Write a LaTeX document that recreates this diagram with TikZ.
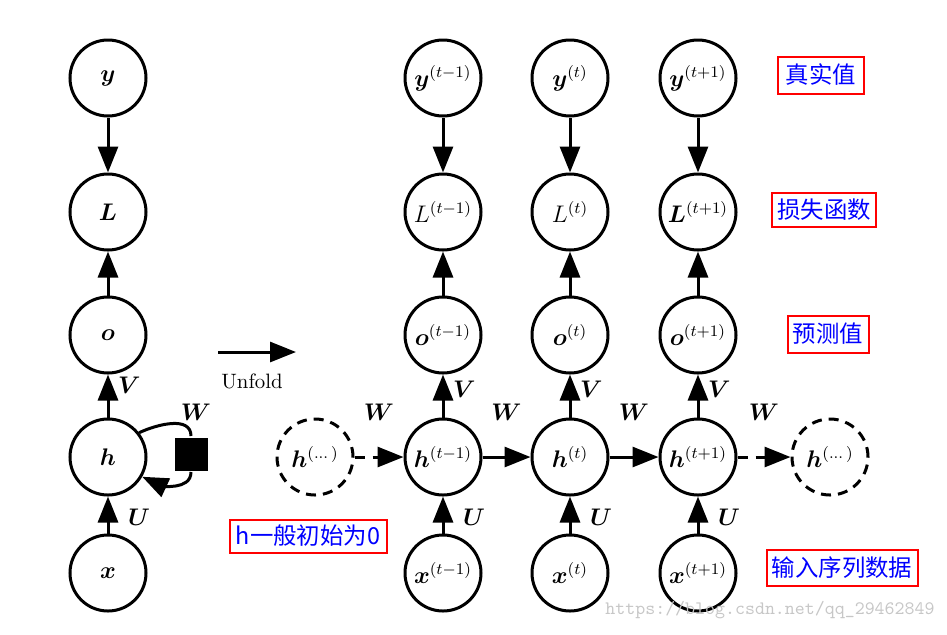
\documentclass[tikz,border=0pt]{standalone}
\usepackage{amsmath,amssymb,bm}
\usepackage{fontspec}
\newfontfamily\cjk{Noto Sans CJK SC}
\usepackage{xcolor}
\usepackage{tikz}
\usetikzlibrary{arrows.meta}

\begin{document}
\begin{tikzpicture}[x=0.5pt, y=-0.5pt, line width=1.5pt,
        R node/.style={circle, draw, minimum size=38pt, inner sep=0pt,
            font=\fontsize{11.8}{13}\selectfont},
        D node/.style={R node, dash pattern=on 5pt off 3.5pt},
        arr/.style={-{Triangle[length=13pt, width=10pt]}},
        lbl/.style={font=\fontsize{11.5}{13}\selectfont},
        note/.style={draw=red, line width=1pt, text=blue, inner sep=1pt,
            font=\cjk\fontsize{11.7}{13}\selectfont}]
    \useasboundingbox (0,0) rectangle (947,634);

    % folded graph
    \node[R node] (y) at (108,78) {$\bm{y}$};
    \node[R node] (L) at (108,212) {$\bm{L}$};
    \node[R node] (o) at (108,335) {$\bm{o}$};
    \node[R node] (h) at (108,457) {$\bm{h}$};
    \node[R node] (x) at (108,573) {$\bm{x}$};
    \node[fill, minimum size=16.5pt, inner sep=0pt] (sq) at (191,454) {};
    \node[lbl] (Wl) at (196,412) {$\bm{W}$};

    \path[arr]
    (y) edge node {} (L)
    (o) edge node {} (L)
    (h) edge node[pos=0.75, right=1pt, lbl] {$\bm{V}$} (o)
    (x) edge node[pos=0.45, right=6pt, lbl] {$\bm{U}$} (h)
    ;
    \draw (h.38) to[out=25, in=90] (sq.north);
    \draw[arr] (sq.south) to[out=-90, in=-25] (h.-30);

    % unfold arrow
    \coordinate (ufs) at (218,352);
    \coordinate (ufe) at (296,352);
    \draw[arr] (ufs) -- (ufe);
    \node[font=\fontsize{10.4}{12}\selectfont] (uf) at (252,381) {Unfold};

    % unfolded graph
    \node[R node] (y1) at (443,78) {$\bm{y}^{(t-1)}$};
    \node[R node] (y2) at (570,78) {$\bm{y}^{(t)}$};
    \node[R node] (y3) at (698,78) {$\bm{y}^{(t+1)}$};
    \node[R node] (L1) at (443,212) {$L^{(t-1)}$};
    \node[R node] (L2) at (570,212) {$L^{(t)}$};
    \node[R node] (L3) at (698,212) {$\bm{L}^{(t+1)}$};
    \node[R node] (o1) at (443,335) {$\bm{o}^{(t-1)}$};
    \node[R node] (o2) at (570,335) {$\bm{o}^{(t)}$};
    \node[R node] (o3) at (698,335) {$\bm{o}^{(t+1)}$};
    \node[D node] (hl) at (315,457) {$\bm{h}^{(\dots)}$};
    \node[R node] (h1) at (443,457) {$\bm{h}^{(t-1)}$};
    \node[R node] (h2) at (570,457) {$\bm{h}^{(t)}$};
    \node[R node] (h3) at (698,457) {$\bm{h}^{(t+1)}$};
    \node[D node] (hr) at (830,457) {$\bm{h}^{(\dots)}$};
    \node[R node] (x1) at (443,573) {$\bm{x}^{(t-1)}$};
    \node[R node] (x2) at (570,573) {$\bm{x}^{(t)}$};
    \node[R node] (x3) at (698,573) {$\bm{x}^{(t+1)}$};

    \path[arr]
    (y1) edge node {} (L1)
    (y2) edge node {} (L2)
    (y3) edge node {} (L3)
    (o1) edge node {} (L1)
    (o2) edge node {} (L2)
    (o3) edge node {} (L3)
    (h1) edge node[pos=0.65, right=1pt, lbl] {$\bm{V}$} (o1)
    (h2) edge node[pos=0.65, right=1pt, lbl] {$\bm{V}$} (o2)
    (h3) edge node[pos=0.65, right=1pt, lbl] {$\bm{V}$} (o3)
    (x1) edge node[pos=0.45, right=6pt, lbl] {$\bm{U}$} (h1)
    (x2) edge node[pos=0.45, right=6pt, lbl] {$\bm{U}$} (h2)
    (x3) edge node[pos=0.45, right=6pt, lbl] {$\bm{U}$} (h3)
    (hl) edge[dash pattern=on 5pt off 4pt] node[midway, above=14pt, lbl] {$\bm{W}$} (h1)
    (h1) edge node[midway, above=14pt, lbl] {$\bm{W}$} (h2)
    (h2) edge node[midway, above=14pt, lbl] {$\bm{W}$} (h3)
    (h3) edge[dash pattern=on 5pt off 4pt] node[midway, above=14pt, lbl] {$\bm{W}$} (hr)
    ;

    % notes
    \node[note, minimum width=43pt, minimum height=18.5pt] (n1) at (821,75) {真实值};
    \node[note, minimum width=52pt, minimum height=17pt] (n2) at (824,210) {损失函数};
    \node[note, minimum width=40.5pt, minimum height=18.5pt] (n3) at (828,334) {预测值};
    \node[note, minimum width=78.5pt, minimum height=16.5pt] (n4) at (308,536) {h一般初始为0};
    \node[note, minimum width=75.5pt, minimum height=18pt] (n5) at (842,568) {输入序列数据};

    \node[text=black!22, font=\ttfamily\fontsize{9.5}{11}\selectfont] (wm) at (770,610)
        {https://blog.csdn.net/qq\_29462849};
\end{tikzpicture}
\end{document}
